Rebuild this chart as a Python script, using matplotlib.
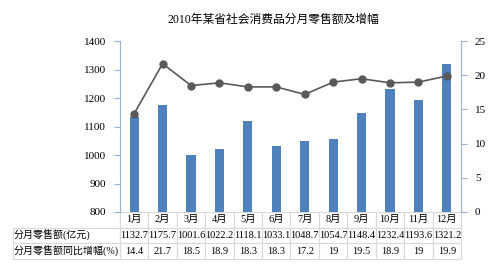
import matplotlib
matplotlib.use("Agg")
import matplotlib.pyplot as plt
import numpy as np

plt.rcParams["font.family"] = ["Liberation Serif", "Noto Sans CJK SC"]

months = ["1月", "2月", "3月", "4月", "5月", "6月", "7月", "8月", "9月", "10月", "11月", "12月"]
sales = [1132.7, 1175.7, 1001.6, 1022.2, 1118.1, 1033.1, 1048.7, 1054.7, 1148.4, 1232.4, 1193.6, 1321.2]
growth = [14.4, 21.7, 18.5, 18.9, 18.3, 18.3, 17.2, 19, 19.5, 18.9, 19, 19.9]
row_labels = ["", "分月零售额(亿元)", "分月零售额同比增幅(%)"]

bar_color = "#4F81BD"
axis_color = "#95B3D7"
line_color = "#595959"

fig = plt.figure(figsize=(5, 2.67), dpi=100)
ax = fig.add_axes([0.24, 0.206, 0.682, 0.64])
x = np.arange(len(months))

ax.bar(x, sales, width=0.32, color=bar_color, zorder=2)
ax.set_ylim(800, 1400)
ax.set_yticks(np.arange(800, 1401, 100))
ax.set_xlim(-0.5, len(months) - 0.5)
ax.set_xticks([])

ax2 = ax.twinx()
ax2.plot(x, growth, color=line_color, lw=1.2, marker="o", ms=5, zorder=3)
ax2.set_ylim(0, 25)
ax2.set_yticks(np.arange(0, 26, 5))

for a in (ax, ax2):
    for s in ("top", "bottom"):
        a.spines[s].set_visible(False)
    a.spines["left"].set_color(axis_color)
    a.spines["right"].set_color(axis_color)
    a.tick_params(axis="y", length=4, color=axis_color, labelsize=8, pad=6)
ax.spines["right"].set_visible(False)
ax2.spines["left"].set_visible(False)

ax.set_title("2010年某省社会消费品分月零售额及增幅", fontsize=8.5, pad=13, x=0.45)

cells = [
    [row_labels[0]] + months,
    [row_labels[1]] + [f"{v:g}" for v in sales],
    [row_labels[2]] + [f"{v:g}" for v in growth],
]
first_w = 107 / 448
col_w = [first_w] + [(1 - first_w) / 12] * 12
tbl = ax.table(cellText=cells, colWidths=col_w, cellLoc="center",
               bbox=[-0.314, -0.275, 1.314, 0.275])
tbl.auto_set_font_size(False)
tbl.set_fontsize(7.5)
for (r, c), cell in tbl.get_celld().items():
    cell.set_edgecolor("#D9D9D9")
    cell.set_linewidth(0.8)
    cell.PAD = 0.01
    if c == 0:
        cell.get_text().set_fontsize(7.2)
        cell.get_text().set_ha("left")
        cell._loc = "left"
tbl[0, 0].visible_edges = "R"

fig.savefig("out.png", dpi=100)
